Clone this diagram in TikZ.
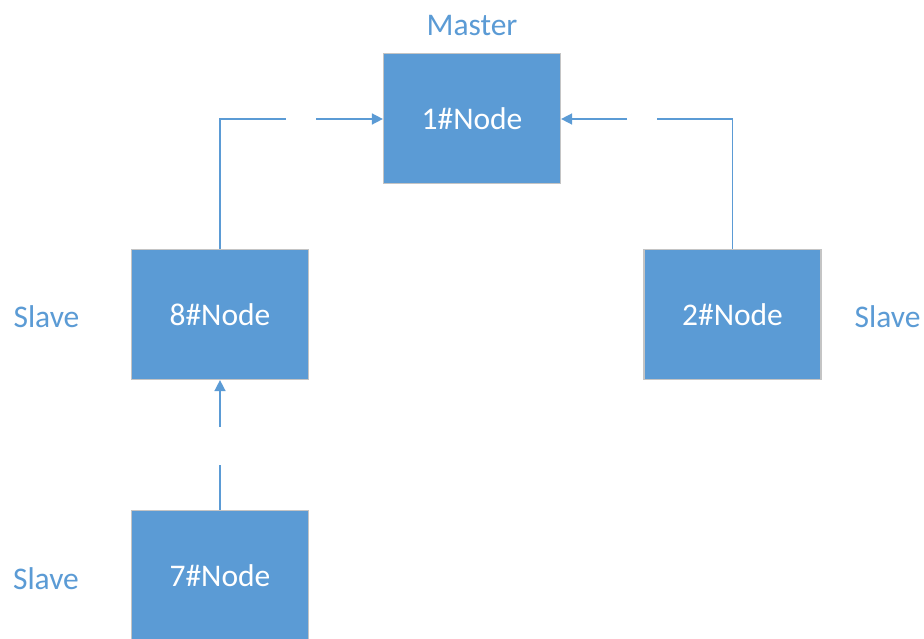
\documentclass[tikz,border=0pt]{standalone}
\usepackage{fontspec}
\setmainfont{Carlito}
\usetikzlibrary{arrows.meta}
\definecolor{boxblue}{HTML}{5B9BD5}
\definecolor{boxedge}{HTML}{C4C4C4}
\definecolor{labelblue}{HTML}{5B9BD5}
\tikzset{
  nodebox/.style={rectangle, fill=boxblue, draw=boxedge, line width=1.2pt,
    minimum width=177pt, minimum height=130pt, inner sep=0pt,
    text=white, font=\fontsize{31.5}{36}\selectfont},
  rolelabel/.style={text=labelblue, inner sep=0pt, font=\fontsize{31.5}{36}\selectfont},
  link/.style={draw=labelblue, line width=1.5pt},
  arrowlink/.style={link, -{Triangle[length=11pt,width=11pt]}}
}
\begin{document}
\begin{tikzpicture}[x=1pt,y=-1pt]
\useasboundingbox (0,0) rectangle (924,639);
\clip (0,0) rectangle (924,639);
\fill[white] (0,0) rectangle (924,639);
\node[nodebox] (n1) at (472,118.5) {\raisebox{-2pt}{1\#Node}};
\node[nodebox] (n8) at (220,314.5) {\raisebox{-2pt}{8\#Node}};
\node[nodebox] (n2) at (732.5,314.5) {\raisebox{-1pt}{2\#Node}};
\node[nodebox] (n7) at (220,575.5) {\raisebox{-2pt}{7\#Node}};
\node[rolelabel] (lm) at (472,26) {Master};
\node[rolelabel] (l8) at (46.5,317) {Slave};
\node[rolelabel] (l2) at (887.5,317) {Slave};
\node[rolelabel] (l7) at (46,579) {Slave};
\coordinate (a1) at (286,119);
\coordinate (a2) at (316,119);
\coordinate (b1) at (657,119);
\coordinate (b2) at (627,119);
\coordinate (c1) at (220,465);
\coordinate (c2) at (220,427);
\draw[link] (n8.north) |- (a1);
\draw[arrowlink] (a2) -- (n1.west |- a2);
\draw[link] (n2.north) |- (b1);
\draw[arrowlink] (b2) -- (n1.east |- b2);
\draw[link] (n7.north) -- (c1);
\draw[arrowlink] (c2) -- (n8.south);
\end{tikzpicture}
\end{document}
